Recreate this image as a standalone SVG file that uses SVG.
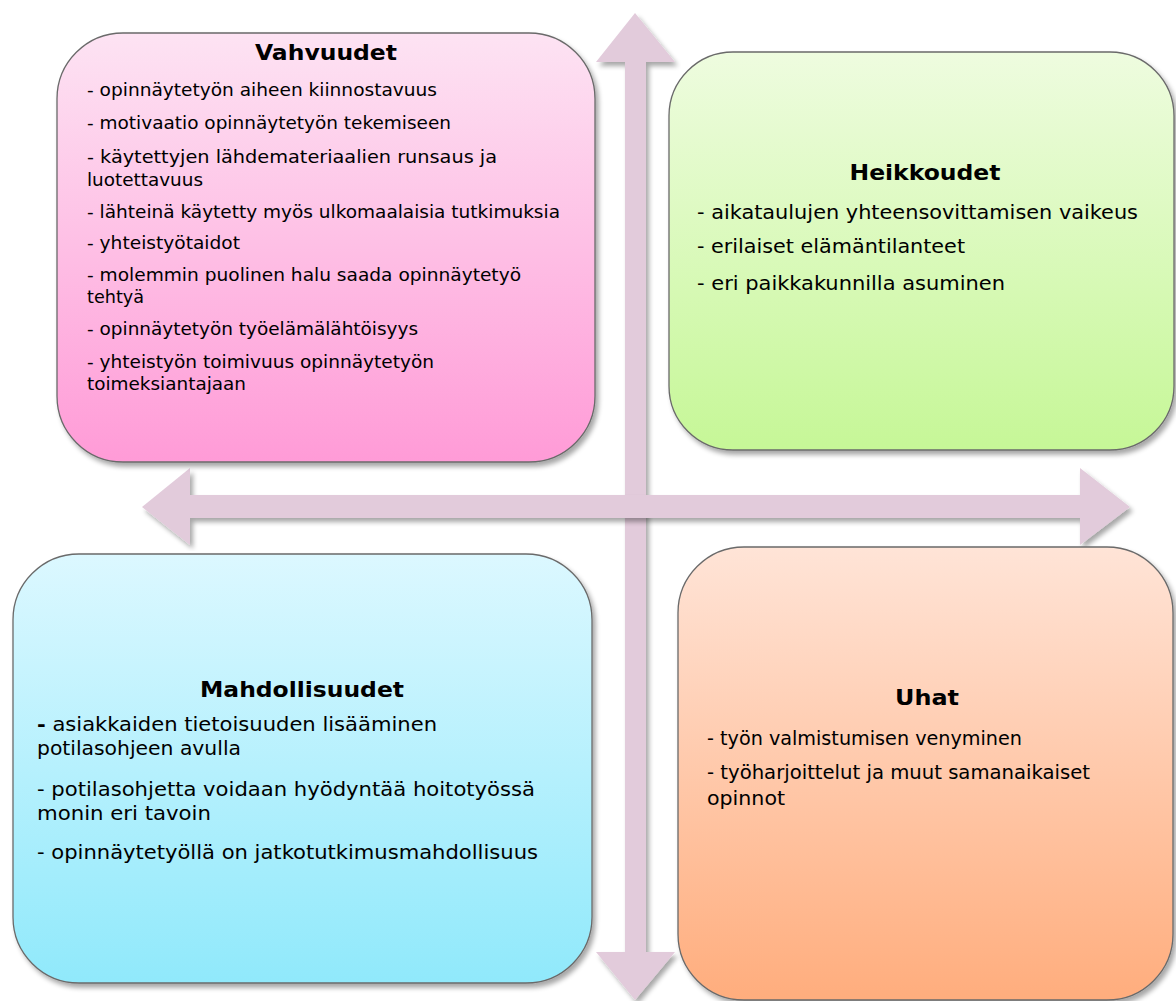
<svg xmlns="http://www.w3.org/2000/svg" width="1176" height="1001" viewBox="0 0 1176 1001">
<defs>
<linearGradient id="gPink" x1="0" y1="0" x2="0" y2="1"><stop offset="0" stop-color="#fde3f3"/><stop offset="1" stop-color="#ff9bd7"/></linearGradient>
<linearGradient id="gGreen" x1="0" y1="0" x2="0" y2="1"><stop offset="0" stop-color="#eefcdf"/><stop offset="1" stop-color="#c6f797"/></linearGradient>
<linearGradient id="gBlue" x1="0" y1="0" x2="0" y2="1"><stop offset="0" stop-color="#dcf8ff"/><stop offset="1" stop-color="#90e9fb"/></linearGradient>
<linearGradient id="gOrange" x1="0" y1="0" x2="0" y2="1"><stop offset="0" stop-color="#ffe4d7"/><stop offset="1" stop-color="#ffad7d"/></linearGradient>
<filter id="sh" x="-5%" y="-5%" width="112%" height="112%">
<feGaussianBlur in="SourceAlpha" stdDeviation="2.5"/>
<feOffset dx="3" dy="4" result="b"/>
<feComponentTransfer><feFuncA type="linear" slope="0.35"/></feComponentTransfer>
<feMerge><feMergeNode/><feMergeNode in="SourceGraphic"/></feMerge>
</filter>
</defs>
<style>
.box{stroke:#6a6a6a;stroke-width:1.3;filter:url(#sh)}
.arrow{fill:#e2cbdb;filter:url(#sh)}
text{font-family:"DejaVu Sans Condensed","DejaVu Sans","Verdana",sans-serif;fill:#000}
.t{font-family:"DejaVu Sans","Verdana",sans-serif;font-weight:bold;font-size:22px;text-anchor:middle}
.s{font-size:17px}
.m{font-size:19.5px}
</style>
<g id="connectors">
<polygon class="arrow" points="635,13 675,62 646,62 646,952 675,952 635,1000 596,952 625,952 625,62 596,62"/>
<polygon class="arrow" points="142,507 190,468 190,495 1080,495 1080,468 1130,507 1080,545 1080,518 190,518 190,545"/>
</g>
<g id="vahvuudet">
<rect class="box" x="57" y="33" width="538" height="429" rx="66" fill="url(#gPink)"/>
<text class="t" x="326" y="60" textLength="142" lengthAdjust="spacingAndGlyphs">Vahvuudet</text>
<text class="s" x="87" y="96" textLength="350" lengthAdjust="spacingAndGlyphs">- opinnäytetyön aiheen kiinnostavuus</text>
<text class="s" x="87" y="129" textLength="364" lengthAdjust="spacingAndGlyphs">- motivaatio opinnäytetyön tekemiseen</text>
<text class="s" x="87" y="163" textLength="410" lengthAdjust="spacingAndGlyphs">- käytettyjen lähdemateriaalien runsaus ja</text>
<text class="s" x="87" y="186" textLength="116" lengthAdjust="spacingAndGlyphs">luotettavuus</text>
<text class="s" x="87" y="218" textLength="473" lengthAdjust="spacingAndGlyphs">- lähteinä käytetty myös ulkomaalaisia tutkimuksia</text>
<text class="s" x="87" y="249" textLength="153" lengthAdjust="spacingAndGlyphs">- yhteistyötaidot</text>
<text class="s" x="87" y="281" textLength="434" lengthAdjust="spacingAndGlyphs">- molemmin puolinen halu saada opinnäytetyö</text>
<text class="s" x="87" y="303" textLength="57" lengthAdjust="spacingAndGlyphs">tehtyä</text>
<text class="s" x="87" y="335" textLength="331" lengthAdjust="spacingAndGlyphs">- opinnäytetyön työelämälähtöisyys</text>
<text class="s" x="87" y="368" textLength="347" lengthAdjust="spacingAndGlyphs">- yhteistyön toimivuus opinnäytetyön</text>
<text class="s" x="87" y="390" textLength="159" lengthAdjust="spacingAndGlyphs">toimeksiantajaan</text>
</g>
<g id="heikkoudet">
<rect class="box" x="669" y="52" width="505" height="398" rx="64" fill="url(#gGreen)"/>
<text class="t" x="925" y="180" textLength="151" lengthAdjust="spacingAndGlyphs">Heikkoudet</text>
<text class="m" x="697" y="219" textLength="441" lengthAdjust="spacingAndGlyphs">- aikataulujen yhteensovittamisen vaikeus</text>
<text class="m" x="697" y="253" textLength="268" lengthAdjust="spacingAndGlyphs">- erilaiset elämäntilanteet</text>
<text class="m" x="697" y="290" textLength="308" lengthAdjust="spacingAndGlyphs">- eri paikkakunnilla asuminen</text>
</g>
<g id="mahdollisuudet">
<rect class="box" x="13" y="554" width="579" height="429" rx="66" fill="url(#gBlue)"/>
<text class="t" x="302" y="697" textLength="204" lengthAdjust="spacingAndGlyphs">Mahdollisuudet</text>
<text class="m" x="37" y="731" textLength="400" lengthAdjust="spacingAndGlyphs"><tspan font-weight="bold">-</tspan> asiakkaiden tietoisuuden lisääminen</text>
<text class="m" x="37" y="755" textLength="204" lengthAdjust="spacingAndGlyphs">potilasohjeen avulla</text>
<text class="m" x="37" y="796" textLength="498" lengthAdjust="spacingAndGlyphs">- potilasohjetta voidaan hyödyntää hoitotyössä</text>
<text class="m" x="37" y="820" textLength="174" lengthAdjust="spacingAndGlyphs">monin eri tavoin</text>
<text class="m" x="37" y="859" textLength="501" lengthAdjust="spacingAndGlyphs">- opinnäytetyöllä on jatkotutkimusmahdollisuus</text>
</g>
<g id="uhat">
<rect class="box" x="678" y="547" width="495" height="453" rx="66" fill="url(#gOrange)"/>
<text class="t" x="927" y="705" textLength="64" lengthAdjust="spacingAndGlyphs">Uhat</text>
<text class="m" x="707" y="745" textLength="315" lengthAdjust="spacingAndGlyphs">- työn valmistumisen venyminen</text>
<text class="m" x="707" y="779" textLength="383" lengthAdjust="spacingAndGlyphs">- työharjoittelut ja muut samanaikaiset</text>
<text class="m" x="707" y="805" textLength="78" lengthAdjust="spacingAndGlyphs">opinnot</text>
</g>
</svg>
